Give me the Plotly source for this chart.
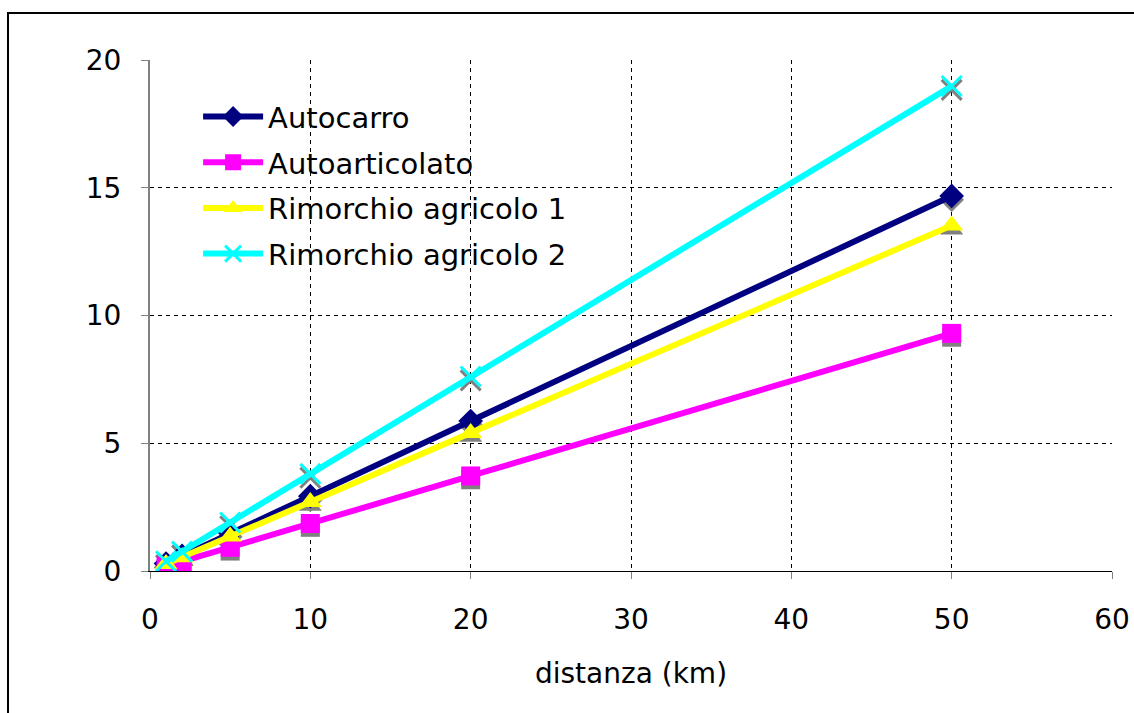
import plotly.graph_objects as go

distanza = [1, 2, 5, 10, 20, 50]
autocarro = [0.29, 0.59, 1.49, 2.93, 5.87, 14.68]
autoarticolato = [0.19, 0.37, 0.93, 1.86, 3.72, 9.30]
rimorchio1 = [0.27, 0.54, 1.35, 2.70, 5.40, 13.52]
rimorchio2 = [0.38, 0.76, 1.90, 3.80, 7.61, 18.98]

series = [
    ("Autocarro", autocarro, "#000080", "diamond", 19),
    ("Autoarticolato", autoarticolato, "#FF00FF", "square", 19),
    ("Rimorchio agricolo 1", rimorchio1, "#FFFF00", "triangle-up", 20),
    ("Rimorchio agricolo 2", rimorchio2, "#00FFFF", "x-thin-open", 20),
]

SHADOW = 0.15  # small downward shadow offset (data units)

fig = go.Figure()
# shadows
for name, vals, col, sym, sz in series:
    fig.add_trace(go.Scatter(
        x=distanza, y=[v - SHADOW for v in vals], mode="markers",
        marker=dict(symbol=sym, size=sz, color="#808080",
                    line=dict(color="#808080", width=3 if "thin" in sym else 0)),
        showlegend=False, hoverinfo="skip"))
for i, (name, vals, col, sym, sz) in enumerate(series):
    fig.add_trace(go.Scatter(
        x=distanza, y=vals, mode="lines+markers", name=name, legendgroup=f"g{i}",
        line=dict(color=col, width=6),
        marker=dict(symbol=sym, size=sz, color=col,
                    line=dict(color=col, width=3 if "thin" in sym else 0))))

font = dict(family="DejaVu Sans", size=28, color="black")
fig.update_layout(
    width=1134, height=713,
    margin=dict(l=150, r=22, t=60, b=142),
    paper_bgcolor="white", plot_bgcolor="white",
    font=font,
    showlegend=True,
    legend=dict(x=0.05, y=0.939, xanchor="left", yanchor="top",
                bgcolor="rgba(0,0,0,0)", font=dict(family="DejaVu Sans", size=29),
                itemwidth=60, traceorder="grouped", tracegroupgap=5),
    xaxis=dict(range=[0, 60], tickvals=[0, 10, 20, 30, 40, 50, 60],
               showgrid=True, gridcolor="black", griddash="4px,4px", gridwidth=1,
               showline=True, linecolor="black", linewidth=1,
               ticks="outside", ticklen=7, tickcolor="#808080",
               tickfont=font, zeroline=False, ticklabelstandoff=16, automargin=False,
               title=dict(text="distanza (km)", font=font, standoff=28)),
    yaxis=dict(range=[0, 20], tickvals=[0, 5, 10, 15, 20],
               showgrid=True, gridcolor="black", griddash="4px,4px", gridwidth=1,
               showline=True, linecolor="#808080", linewidth=2,
               ticks="outside", ticklen=7, tickcolor="#808080",
               tickfont=font, zeroline=False, ticklabelstandoff=14, automargin=False),
)
# chart area border (top and left edges)
fig.add_shape(type="rect", xref="paper", yref="paper",
              x0=(8 - 150) / 962, x1=1.3, y0=-0.6, y1=(571 - 13) / 511,
              line=dict(color="black", width=2), fillcolor="rgba(0,0,0,0)", layer="below")

fig.write_html("out.html")
